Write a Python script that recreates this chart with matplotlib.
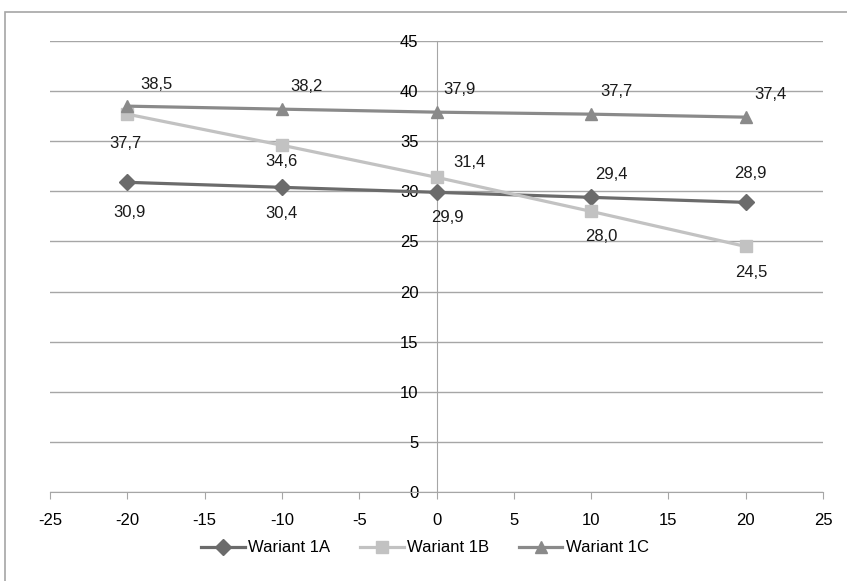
import matplotlib.pyplot as plt
from matplotlib.patches import Rectangle

plt.rcParams['font.family'] = ['Liberation Sans', 'DejaVu Sans']
plt.rcParams['axes.unicode_minus'] = False

# temperatures on x-axis, values for each variant
x_vals = [-20, -10, 0, 10, 20]
wariant_1a = [30.9, 30.4, 29.9, 29.4, 28.9]
wariant_1b = [37.7, 34.6, 31.4, 28.0, 24.5]
wariant_1c = [38.5, 38.2, 37.9, 37.7, 37.4]
names = ['Wariant 1A', 'Wariant 1B', 'Wariant 1C']

# label offsets in pixels (dx, dy) per point
off_1a = [(2, -30), (0, -26), (11, -25), (20, 23), (5, 29)]
off_1b = [(-2, -29), (0, -16), (33, 15), (10, -25), (6, -26)]
off_1c = [(29, 22), (25, 23), (23, 23), (25, 23), (25, 23)]

fig = plt.figure(figsize=(8.47, 5.81), dpi=100)
ax = fig.add_axes([50 / 847, 1 - 492 / 581, 773 / 847, 451 / 581])

series = [
    (wariant_1a, '#6b6b6b', 'D', 8, off_1a),
    (wariant_1b, '#c2c2c2', 's', 9, off_1b),
    (wariant_1c, '#8a8a8a', '^', 9, off_1c),
]
for (ys, col, mk, ms, offs), name in zip(series, names):
    ax.plot(x_vals, ys, color=col, marker=mk, markersize=ms, linewidth=2.3,
            label=name, zorder=3, clip_on=False)
    for x, y, (dx, dy) in zip(x_vals, ys, offs):
        ax.annotate(f'{y:.1f}'.replace('.', ','), (x, y), xytext=(dx, dy),
                    textcoords='offset pixels', ha='center', va='center',
                    fontsize=12, color='#1a1a1a', zorder=4)

ax.set_xlim(-25, 25)
ax.set_ylim(0, 45)
ax.set_xticks(range(-25, 26, 5))
ax.set_yticks(range(0, 46, 5))
ax.set_yticklabels([str(v) for v in range(0, 46, 5)])
ax.yaxis.grid(True, color='#a6a6a6', linewidth=1)
ax.set_axisbelow(True)

ax.spines['left'].set_position(('data', 0))
ax.spines['left'].set_color('#a6a6a6')
ax.spines['bottom'].set_color('#a6a6a6')
ax.spines['top'].set_visible(False)
ax.spines['right'].set_visible(False)
ax.tick_params(axis='y', length=0, pad=13, labelsize=12)
ax.tick_params(axis='x', length=5, color='#a6a6a6', pad=10, labelsize=12)

ax.legend(loc='center', bbox_to_anchor=(425 / 847, 1 - 548 / 581),
          bbox_transform=fig.transFigure, ncol=3, frameon=False,
          fontsize=12, handlelength=2.6, columnspacing=1.8, handletextpad=0.2)

# outer chart frame
fig.patches.append(Rectangle((5 / 847, -0.05), 1.0, (581 - 12) / 581 + 0.05,
                             transform=fig.transFigure, fill=False,
                             edgecolor='#a6a6a6', linewidth=1.2))

fig.savefig('out.png', dpi=100)
